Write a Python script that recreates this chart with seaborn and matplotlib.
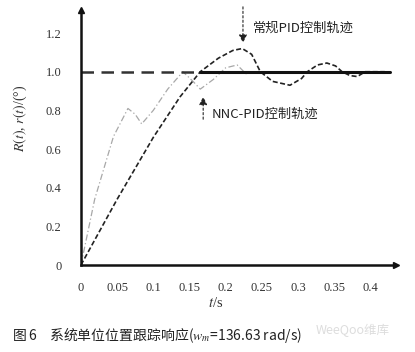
"""
NNC-PID vs conventional PID unit position tracking response
"""

import pandas as pd
import seaborn as sns
import matplotlib.pyplot as plt

# time (s) and response values
t_nnc = [0, 0.019, 0.045, 0.065, 0.075, 0.084, 0.10, 0.12, 0.141, 0.155, 0.165,
         0.183, 0.20, 0.216, 0.228, 0.24, 0.25]
y_nnc = [0, 0.34, 0.665, 0.81, 0.78, 0.73, 0.80, 0.91, 1.0, 0.95, 0.91,
         0.96, 1.02, 1.035, 0.99, 1.0, 1.0]

t_pid = [0, 0.05, 0.10, 0.137, 0.165, 0.19, 0.21, 0.223, 0.236, 0.248, 0.265,
         0.289, 0.305, 0.313, 0.327, 0.340, 0.352, 0.361, 0.372, 0.382, 0.393, 0.42]
y_pid = [0, 0.34, 0.66, 0.87, 1.0, 1.07, 1.11, 1.12, 1.09, 1.0, 0.95,
         0.93, 0.965, 1.0, 1.035, 1.045, 1.03, 1.0, 0.98, 0.975, 1.0, 1.0]

t_ref_dash = [0, 0.165]
t_ref_solid = [0.165, 0.427]
r_ref = [1.0, 1.0]

x_ticks = [0, 0.05, 0.1, 0.15, 0.2, 0.25, 0.3, 0.35, 0.4]
x_labels = ['0', '0.05', '0.1', '0.15', '0.2', '0.25', '0.3', '0.35', '0.4']
y_ticks = [0, 0.2, 0.4, 0.6, 0.8, 1.0, 1.2]
y_labels = ['0', '0.2', '0.4', '0.6', '0.8', '1.0', '1.2']

sns.set_theme(style='white')
plt.rcParams['font.family'] = ['Liberation Serif', 'Noto Sans CJK SC', 'DejaVu Sans']
plt.rcParams['mathtext.fontset'] = 'stix'
cjk = ['Noto Sans CJK SC', 'Liberation Serif', 'DejaVu Sans']

fig = plt.figure(figsize=(4.15, 3.52), dpi=100)
ax = fig.add_axes([0.195, 0.247, 0.76, 0.725])

nnc = pd.DataFrame({'t': t_nnc, 'y': y_nnc})
pid = pd.DataFrame({'t': t_pid, 'y': y_pid})

sns.lineplot(data=nnc, x='t', y='y', ax=ax, color='#a8a8a8', lw=0.9,
             linestyle=(0, (5, 2, 1, 2)), estimator=None, sort=False)
sns.lineplot(data=pid, x='t', y='y', ax=ax, color='#222222', lw=1.2,
             linestyle=(0, (3, 1.5)), estimator=None, sort=False)
sns.lineplot(x=t_ref_dash, y=r_ref, ax=ax, color='#333333', lw=1.8,
             linestyle=(0, (5, 3)), estimator=None)
sns.lineplot(x=t_ref_solid, y=r_ref, ax=ax, color='#111111', lw=2.2, estimator=None)

ax.set_xlim(0, 0.436)
ax.set_ylim(0, 1.32)
ax.set_xticks(x_ticks)
ax.set_xticklabels(x_labels)
ax.set_yticks(y_ticks)
ax.set_yticklabels(y_labels)
ax.tick_params(direction='in', length=3, width=0.6, colors='#444444',
               labelsize=9, labelcolor='#333333', pad=12)
ax.tick_params(axis='y', pad=14)
ax.set_xlabel('')
ax.set_ylabel('')

for s in ['top', 'right']:
    ax.spines[s].set_visible(False)
for s in ['left', 'bottom']:
    ax.spines[s].set_linewidth(1.8)
    ax.spines[s].set_color('#111111')

# axis arrows
ax.plot(1, 0, '>', color='#111111', ms=5, transform=ax.get_yaxis_transform(), clip_on=False)
ax.plot(0, 1, '^', color='#111111', ms=5, transform=ax.get_xaxis_transform(), clip_on=False)

# annotations
ax.annotate('', xy=(0.224, 1.135), xytext=(0.224, 1.35), annotation_clip=False,
            arrowprops=dict(arrowstyle='-|>', color='#222222', lw=0.8,
                            linestyle=(0, (2, 2)), mutation_scale=12))
ax.text(0.238, 1.225, '常规PID控制轨迹', family=cjk, fontsize=9.5,
        color='#222222', va='center')
ax.annotate('', xy=(0.169, 0.885), xytext=(0.169, 0.74), annotation_clip=False,
            arrowprops=dict(arrowstyle='-|>', color='#222222', lw=0.8,
                            linestyle=(0, (2, 2)), mutation_scale=12))
ax.text(0.181, 0.78, 'NNC-PID控制轨迹', family=cjk, fontsize=9.5,
        color='#222222', va='center')

fig.text(0.048, 0.665, '$R(t)$, $r(t)$/(°)', rotation=90, fontsize=10,
         color='#333333', ha='center', va='center')
fig.text(0.52, 0.138, '$t$/s', fontsize=10.5, color='#333333',
         ha='center', va='center')
fig.text(0.03, 0.048, '图 6    系统单位位置跟踪响应($w_m$=136.63 rad/s)',
         family=cjk, fontsize=10, color='#222222', va='center')
fig.text(0.76, 0.062, 'WeeQoo维库', family=cjk, fontsize=9,
         color='#dddddd', va='center')

fig.savefig('out.png', dpi=100)
